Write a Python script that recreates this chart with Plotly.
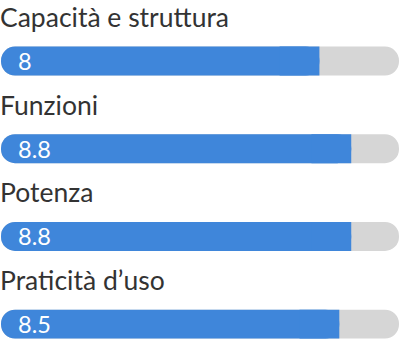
import plotly.graph_objects as go

categories = ["Capacità e struttura", "Funzioni", "Potenza", "Praticità d’uso"]
scores = [8, 8.8, 8.8, 8.5]
max_score = 10
value_labels = ["8", "8.8", "8.8", "8.5"]

BLUE = "#3f86da"
GRAY = "#d6d6d6"
TEXT = "#333333"
FONT = "Lato"

n = len(categories)
bw = 0.33
radius = 14
cap = 1.0  # length of the square end piece

fig = go.Figure()
# gray track (floating bar -> both ends rounded)
fig.add_trace(go.Bar(
    y=categories, x=[max_score] * n, base=[0] * n,
    orientation="h", width=bw, marker=dict(color=GRAY, line=dict(width=0), cornerradius=radius),
    hoverinfo="skip", showlegend=False))
# blue score bar (rounded both ends)
fig.add_trace(go.Bar(
    y=categories, x=scores, base=[0] * n,
    orientation="h", width=bw, marker=dict(color=BLUE, line=dict(width=0), cornerradius=radius),
    hoverinfo="skip", showlegend=False))
# square piece to make the right end of the score bar flat
fig.add_trace(go.Bar(
    y=categories, x=[cap] * n, base=[s - cap for s in scores],
    orientation="h", width=bw, marker=dict(color=BLUE, line=dict(width=0), cornerradius=0),
    hoverinfo="skip", showlegend=False))

for cat, lab in zip(categories, value_labels):
    fig.add_annotation(x=0, y=cat, xref="x", yref="y", text=lab, showarrow=False,
                       xanchor="left", yanchor="middle", xshift=15, yshift=0,
                       font=dict(family=FONT, size=23.5, color="white"))
    fig.add_annotation(x=0, y=cat, xref="x", yref="y", text=cat, showarrow=False,
                       xanchor="left", yanchor="bottom", xshift=-3, yshift=26,
                       font=dict(family=FONT, size=26.5, color=TEXT))

fig.update_layout(
    width=400, height=347, margin=dict(l=1, r=1, t=0, b=0),
    paper_bgcolor="white", plot_bgcolor="white", barmode="overlay",
    xaxis=dict(range=[0, max_score], visible=False, fixedrange=True),
    yaxis=dict(categoryorder="array", categoryarray=categories,
               range=[3.261, -0.6956], visible=False, fixedrange=True),
)
fig.write_html("out.html")
